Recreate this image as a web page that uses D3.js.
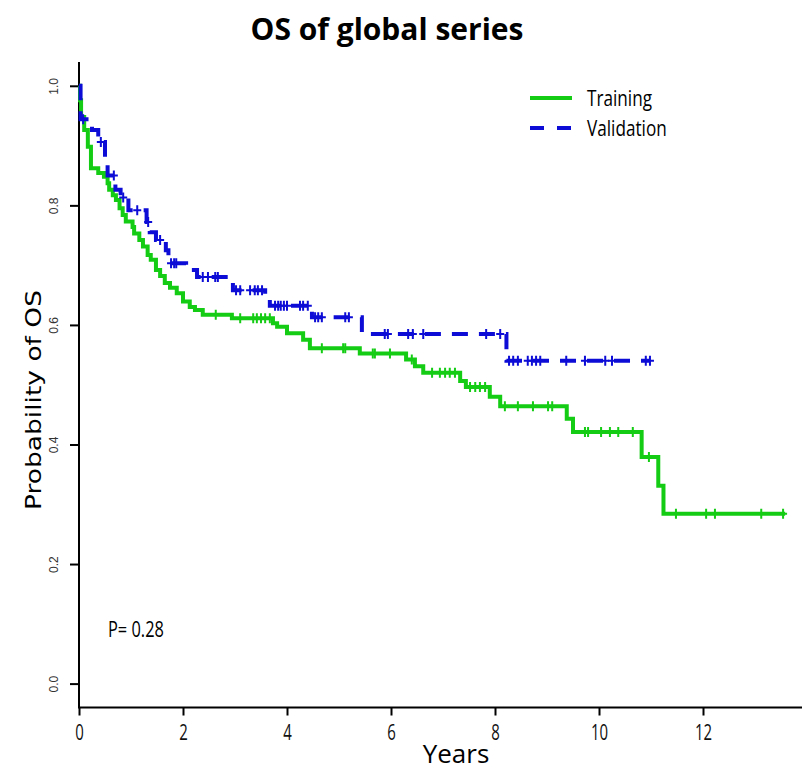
<!DOCTYPE html>
<html>
<head>
<meta charset="utf-8">
<script src="https://cdn.jsdelivr.net/npm/d3@7"></script>
<style>
  body { margin: 0; background: #fff; }
  svg { display: block; }
</style>
</head>
<body>
<script>
'use strict';

// Kaplan-Meier steps: drop time (years) and survival after the drop
const trainingTimes = [0.02, 0.04, 0.10, 0.17, 0.23, 0.37, 0.48, 0.55, 0.58, 0.65, 0.71, 0.78, 0.84, 0.90,
  1.03, 1.06, 1.16, 1.23, 1.32, 1.38, 1.48, 1.56, 1.65, 1.75, 1.88, 2.00, 2.13, 2.23, 2.38, 2.94,
  3.73, 3.81, 4.00, 4.31, 4.44, 5.40, 6.29, 6.46, 6.62, 7.33, 7.44, 7.90, 8.10, 9.38, 9.50, 10.82, 11.14, 11.24];
const trainingSurv = [0.976, 0.948, 0.926, 0.898, 0.862, 0.854, 0.848, 0.837, 0.826, 0.817, 0.809, 0.795, 0.784, 0.773,
  0.764, 0.753, 0.742, 0.731, 0.717, 0.709, 0.692, 0.682, 0.670, 0.662, 0.653, 0.639, 0.630, 0.625, 0.617, 0.611,
  0.603, 0.597, 0.586, 0.575, 0.561, 0.552, 0.542, 0.531, 0.520, 0.506, 0.496, 0.480, 0.464, 0.443, 0.421, 0.379, 0.331, 0.284];
const trainingCensor = [2.63, 3.10, 3.35, 3.42, 3.50, 3.58, 3.67, 4.67, 5.08, 5.12, 5.65, 5.69, 5.98, 6.40,
  6.79, 6.94, 7.04, 7.13, 7.23, 7.52, 7.62, 7.71, 7.81, 8.19, 8.44, 8.73, 9.02, 9.10, 9.73, 9.79,
  10.04, 10.21, 10.37, 10.65, 10.96, 11.48, 12.06, 12.23, 13.12, 13.54];
const trainingEnd = 13.58;

const validationTimes = [0.03, 0.25, 0.37, 0.50, 0.55, 0.70, 0.80, 0.95, 1.30, 1.36, 1.48, 1.67, 1.72,
  2.06, 2.27, 2.96, 3.58, 3.67, 4.48, 5.44, 8.22];
const validationSurv = [0.944, 0.926, 0.906, 0.872, 0.850, 0.826, 0.813, 0.792, 0.772, 0.755, 0.742, 0.725, 0.703,
  0.692, 0.680, 0.658, 0.642, 0.632, 0.613, 0.585, 0.540];
const validationCensor = [0.08, 0.42, 0.67, 0.85, 1.12, 1.33, 1.56, 1.77, 1.83, 1.87, 2.38, 2.48, 2.62, 2.67,
  3.02, 3.10, 3.29, 3.38, 3.44, 3.52, 3.77, 3.83, 3.88, 3.94, 4.00, 4.25, 4.31, 4.40, 4.54, 4.60, 4.67,
  5.12, 5.19, 5.88, 5.94, 6.33, 6.42, 6.62, 7.83, 8.10, 8.27, 8.35, 8.44, 8.63, 8.71, 8.79, 8.87,
  9.37, 9.73, 10.12, 10.25, 10.90, 10.98];
const validationEnd = 10.98;

const xTicks = [0, 2, 4, 6, 8, 10, 12];
const yTicks = [0, 0.2, 0.4, 0.6, 0.8, 1.0];
const seriesNames = ["Training", "Validation"];
const pValue = "P= 0.28";

const W = 802, H = 773;
const green = "#14cc14", blue = "#0c0cd6";
const sans = "'Open Sans', sans-serif";

const svg = d3.select("body").append("svg").attr("width", W).attr("height", H);

const x = d3.scaleLinear().domain([0, 14]).range([79, 79 + 14 * 52]);
const y = d3.scaleLinear().domain([0, 1]).range([683.6, 85.8]);

// title
svg.append("text")
  .attr("x", 387).attr("y", 40)
  .attr("text-anchor", "middle")
  .style("font-family", sans)
  .style("font-weight", "bold")
  .style("font-size", "30px")
  .text("OS of global series");

// frame (bty = "l")
const yTop = y(1.04), yBot = y(-0.04);
svg.append("line").attr("x1", x(0)).attr("x2", x(0)).attr("y1", yTop).attr("y2", yBot)
  .attr("stroke", "#000").attr("stroke-width", 2);
svg.append("line").attr("x1", x(0) - 1).attr("x2", W).attr("y1", yBot).attr("y2", yBot)
  .attr("stroke", "#000").attr("stroke-width", 2);

// y axis
const yAxis = svg.append("g").attr("transform", `translate(${x(0)},0)`)
  .call(d3.axisLeft(y).tickValues(yTicks).tickFormat(d3.format(".1f")).tickSize(9).tickPadding(0));
yAxis.select(".domain").remove();
yAxis.selectAll(".tick line").attr("stroke", "#000").attr("stroke-width", 2);
yAxis.selectAll(".tick text")
  .attr("transform", "rotate(-90)")
  .attr("x", 0).attr("y", -21).attr("dy", null)
  .attr("text-anchor", "middle")
  .attr("fill", "#333")
  .style("font-family", "'Liberation Sans', Arial, sans-serif")
  .style("font-size", "12px");

// x axis
const xAxis = svg.append("g").attr("transform", `translate(0,${yBot})`)
  .call(d3.axisBottom(x).tickValues(xTicks).tickSize(8).tickPadding(10));
xAxis.select(".domain").remove();
xAxis.selectAll(".tick line").attr("stroke", "#000").attr("stroke-width", 2);
xAxis.selectAll(".tick text")
  .attr("transform", "scale(0.68,1)")
  .attr("y", 17).attr("dy", "0.71em")
  .attr("fill", "#111")
  .style("font-family", sans)
  .style("font-size", "22px");

// axis titles
svg.append("text")
  .attr("x", 456).attr("y", 763)
  .attr("text-anchor", "middle")
  .style("font-family", sans)
  .style("font-size", "26px")
  .text("Years");

svg.append("text")
  .attr("transform", "translate(41,400) rotate(-90)")
  .attr("text-anchor", "middle")
  .attr("textLength", 220).attr("lengthAdjust", "spacingAndGlyphs")
  .style("font-family", "'DejaVu Sans', Verdana, sans-serif")
  .style("font-size", "22px")
  .text("Probability of OS");

// curves
function stepPoints(times, surv, end) {
  const pts = [[0, 1]];
  times.forEach((t, i) => pts.push([t, surv[i]]));
  pts.push([end, surv[surv.length - 1]]);
  return pts;
}
function survAt(times, surv, t) {
  const i = d3.bisectRight(times, t);
  return i === 0 ? 1 : surv[i - 1];
}

const line = d3.line().x(d => x(d[0])).y(d => y(d[1])).curve(d3.curveStepAfter);

const series = [
  { times: trainingTimes, surv: trainingSurv, censor: trainingCensor, end: trainingEnd, color: green, dash: null },
  { times: validationTimes, surv: validationSurv, censor: validationCensor, end: validationEnd, color: blue, dash: "16,11" }
];

series.forEach(s => {
  svg.append("path")
    .datum(stepPoints(s.times, s.surv, s.end))
    .attr("d", line)
    .attr("fill", "none")
    .attr("stroke", s.color)
    .attr("stroke-width", 4)
    .attr("stroke-dasharray", s.dash);

  svg.append("g").selectAll("path")
    .data(s.censor)
    .join("path")
    .attr("transform", d => `translate(${x(d)},${y(survAt(s.times, s.surv, d))})`)
    .attr("d", "M0,-5V5M-4,0H4")
    .attr("stroke", s.color)
    .attr("stroke-width", 2);
});

// legend
const legend = svg.append("g");
series.forEach((s, i) => {
  const ly = 98 + i * 30;
  legend.append("line")
    .attr("x1", 530).attr("x2", 572).attr("y1", ly).attr("y2", ly)
    .attr("stroke", s.color).attr("stroke-width", 4)
    .attr("stroke-dasharray", s.dash ? "14,13" : null);
  legend.append("text")
    .attr("transform", `translate(587,${ly + 8}) scale(0.78,1)`)
    .style("font-family", sans)
    .style("font-size", "22px")
    .text(seriesNames[i]);
});

// p-value
svg.append("text")
  .attr("transform", "translate(108,637) scale(0.78,1)")
  .style("font-family", sans)
  .style("font-size", "21px")
  .text(pValue);
</script>
</body>
</html>
